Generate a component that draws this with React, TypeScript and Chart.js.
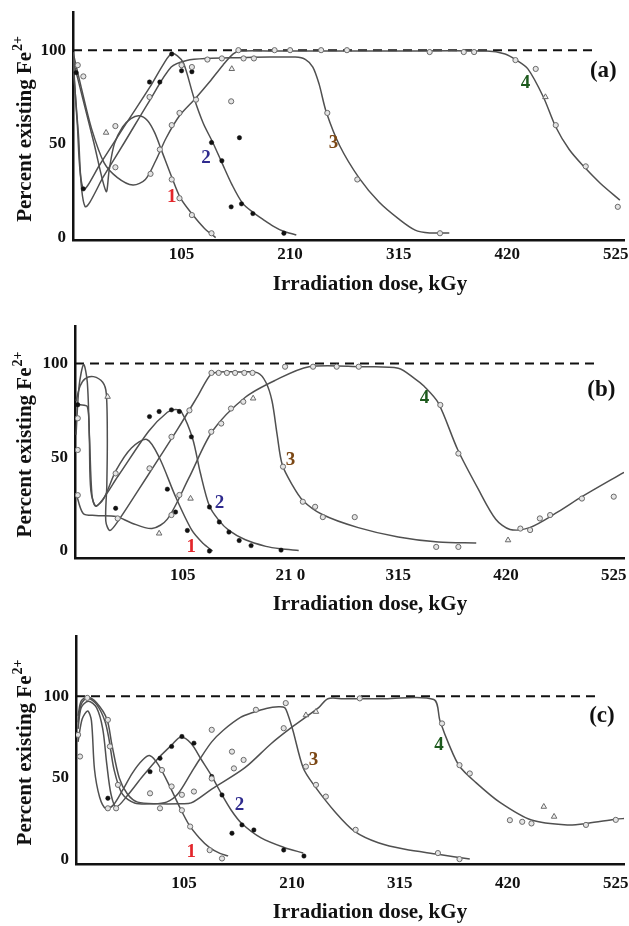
import React, { useEffect, useRef } from "react";
import { Chart, registerables } from "chart.js";
Chart.register(...registerables);

const SERIF = "'Liberation Serif', 'Times New Roman', serif";

// ---------- shared text / ticks ----------
const xTicks = [105, 210, 315, 420, 525];
const xTickLabelsA = ["105", "210", "315", "420", "525"];
const xTickLabelsB = ["105", "21 0", "315", "420", "525"];
const xTickLabelsC = ["105", "210", "315", "420", "525"];
const yTicks = [0, 50, 100];
const yTickLabels = ["0", "50", "100"];
const xTitle = "Irradiation dose, kGy";
const yTitleMain = "Percent existing Fe";
const yTitleSup = "2+";
const refLevel = 100;
const curveNames = ["1", "2", "3", "4"];
const labelColors = ["#e3262b", "#2f2b8e", "#7b4714", "#1d5a1d", "#111111"];

// ---------- panel (a) ----------
const a1X = [0, 10, 20, 32, 35, 40, 48, 56, 64, 72, 79, 86, 95, 104, 116, 127, 138];
const a1Y = [95, 73, 51, 24.6, 36, 50, 59, 63.5, 65, 62.5, 56, 46, 33, 21, 12, 5, 0];
const a2X = [0, 4, 10, 26, 51, 74, 88, 95, 101, 107, 117, 126, 135, 144, 154, 164, 174, 184, 194, 203, 216];
const a2Y = [97, 62, 26, 39, 60.5, 80, 93, 98, 97, 93, 74.6, 61, 51, 40, 28, 18.4, 13.5, 9.6, 6, 3.5, 1.4];
const a3X = [0, 5, 11.6, 30, 50, 74, 95, 110, 130, 160, 190, 215, 225, 232, 238, 245, 258, 277, 296, 315, 331, 345, 364];
const a3Y = [93, 57, 16.7, 33, 51, 73, 91, 94.5, 95.6, 96, 96.3, 96.3, 95, 91, 82, 67, 49, 31.6, 19, 10, 4, 2.5, 2.5];
const a4X = [0, 8, 18, 30, 43, 58, 70, 80, 90, 103, 118, 132, 145, 155, 162, 200, 300, 400, 418, 428, 440, 455, 467, 480, 494, 510, 529];
const a4Y = [99, 80, 58, 40, 32, 28, 31, 41, 53, 65, 74, 83, 92, 98, 99.5, 99.5, 99.5, 99.5, 98, 95, 90, 75, 59, 47, 38, 29, 20];
const openAX = [4.6, 10, 41, 41, 74, 75, 84, 95.5, 103, 105, 115, 119, 130, 144, 153, 165, 175, 95.5, 103, 115, 134, 246, 275, 355, 160, 195, 210, 240, 265, 345, 378, 388, 428, 447.6, 467, 496, 527];
const openAY = [92, 86, 59.5, 37.5, 75, 34, 47, 60, 66.5, 92, 91, 73.6, 95, 95.6, 72.7, 95.6, 95.6, 31, 21, 12, 2.3, 66.5, 31, 2.3, 100, 100, 100, 100, 100, 99, 99, 99, 94.7, 90, 60, 38, 16.4];
const triAX = [32, 153.6, 457];
const triAY = [56, 90, 75];
const dotAX = [74, 84, 105, 115, 95.5, 134, 144, 161, 153, 163, 174, 204, 10, 3];
const dotAY = [83, 83, 89, 88.5, 98, 50.7, 41, 53.3, 16.4, 18, 12.8, 2.3, 26, 88];
const labelTextA = [...curveNames, "(a)"];
const labelXA = [95.6, 128.6, 252, 437.8, 513];
const labelYA = [21.6, 42.4, 50.4, 82.4, 89];

// ---------- panel (b) ----------
const b1X = [1, 5, 12, 14, 16.5, 20, 28, 40, 55, 70, 82, 98, 114, 125, 134];
const b1Y = [78, 78, 77, 62, 30, 24, 28, 43, 55, 59.5, 50, 29, 11, 4, 0];
const b2X = [1, 4, 8.4, 12, 14, 15.5, 21, 42, 72, 90, 98, 104, 114.6, 122, 131, 140, 150, 166, 186, 200, 218];
const b2Y = [62, 88, 99.5, 90, 60, 32, 24, 40, 64, 74, 75.5, 74, 60, 42, 24, 16.5, 11, 6, 2.5, 1.2, 0.3];
const b3X = [1, 5, 10, 18, 27, 30.5, 31.5, 31, 30, 34, 42, 60, 80, 100, 120, 132, 140, 160, 178, 186, 192, 197, 202, 212, 222, 241, 276, 315, 354, 391];
const b3Y = [80, 88, 92, 93, 90, 84, 60, 35, 16, 11, 16, 31, 48, 65, 83, 94, 95.5, 95.5, 95, 90, 80, 62, 46, 35, 27, 19.5, 12.5, 7.5, 4.8, 4.3];
const b4X = [1, 8, 20, 40, 55, 75, 90, 111, 134, 166, 195, 228, 280, 315, 331, 340, 354, 373, 393, 410, 424, 443, 471, 494, 535];
const b4Y = [31, 20, 19, 18.5, 15, 12, 17, 39, 64, 82, 91, 98.3, 98.3, 97.5, 92, 88, 79, 54, 33, 17, 11.5, 12.5, 21, 29, 42];
const openBX = [2.7, 2.7, 2.7, 39.6, 41.6, 72.6, 94, 94, 101.7, 111.5, 132.8, 142.5, 152, 164, 133, 140, 148, 156, 165, 173, 202.7, 222, 234, 241.5, 272.6, 352, 373.6, 204.7, 232, 255, 276.5, 356, 373.6, 434, 443.5, 453, 463, 494, 525];
const openBY = [70.8, 53.9, 29.8, 41.4, 17.4, 44.1, 60.9, 19.2, 29.9, 75, 63.6, 68, 76, 79.6, 95, 95, 95, 95, 95, 95, 45, 26.3, 23.6, 18.1, 18.1, 2.2, 2.2, 98.3, 98.3, 98.3, 98.3, 77.9, 52, 12, 11.2, 17.4, 19.2, 28, 29];
const triBX = [31.8, 82, 112.6, 173.6, 422];
const triBY = [82.3, 9.4, 28, 81.4, 5.8];
const dotBX = [72.6, 82, 94, 101.7, 113.4, 131, 140.6, 150, 160, 171.6, 200.8, 90, 98, 109.5, 131, 39.6, 2.7];
const dotBY = [71.7, 74.4, 75.3, 74.4, 60.9, 23.5, 15.5, 10.1, 5.6, 2.9, 0.5, 33, 20.8, 11, 0, 22.8, 78];
const labelTextB = [...curveNames, "(b)"];
const labelXB = [113.4, 140.7, 210, 340.6, 513];
const labelYB = [2.3, 25.4, 48.5, 81.4, 85.9];

// ---------- panel (c) ----------
const c1X = [2, 6, 11.4, 15, 18, 23, 29, 36, 45, 55, 65, 72, 80, 91, 100, 110, 120, 130, 140, 148];
const c1Y = [72, 86, 91, 85, 55, 38, 31, 33, 42, 53, 61, 63.5, 58, 45, 33, 21, 13, 7, 3.5, 2];
const c2X = [2, 5, 12, 20, 26, 30, 34, 39, 50, 65, 80, 93, 102, 112, 122, 132, 141.5, 151, 161, 180, 203, 221];
const c2Y = [80, 93, 97, 93, 80, 58, 40, 32, 39, 51, 62, 70, 75, 71, 61, 51, 40, 30, 22, 13, 7, 3.8];
const c3X = [2, 5, 11, 20, 28, 32, 37, 45, 57, 75, 88, 99, 112, 120, 132, 143, 160, 172, 185, 197, 203, 206, 211, 221, 232, 252, 271, 294, 320, 352, 383];
const c3Y = [84, 95, 99, 95, 85, 74, 55, 40, 34.5, 34, 35, 40, 53, 61, 72, 79, 87, 90, 92.5, 93.5, 93, 89, 79, 56, 45, 29, 17, 10, 6, 3, 0];
const c4X = [2, 5, 11, 20, 30, 35, 42, 50, 60, 80, 100, 112, 132, 164, 190, 210, 236, 245, 260, 300, 348, 354, 363, 373, 389, 412, 443, 478, 498, 525, 535];
const c4Y = [88, 97, 99.5, 96, 86, 70, 50, 40, 35, 34, 34, 34.5, 43, 56, 71, 81, 93, 98.5, 98.5, 98.5, 98, 85, 70, 57, 47, 35, 24, 21, 22, 24.5, 25];
const openCX = [2, 3.9, 31, 33, 40.8, 31, 39, 72, 81.7, 93, 103, 114.7, 83.6, 103, 111, 130, 142, 132, 151.7, 175, 204, 202, 223.6, 233.4, 243, 272, 352, 373, 132, 153.6, 163, 276, 356, 373, 383, 422, 434, 443, 496, 525, 11];
const openCY = [76.3, 63, 85.5, 69.2, 45.6, 31.2, 31.2, 40.4, 31.2, 44.6, 39.5, 41.5, 54.7, 30, 20, 5.5, 0.4, 79.4, 66, 91.7, 95.8, 80.4, 56.8, 45.6, 38.4, 18, 3.7, 0, 49.5, 55.7, 60.9, 98.7, 83.3, 57.7, 52.6, 23.9, 22.9, 21.9, 21, 24.1, 99];
const triCX = [223.6, 233.4, 455, 465];
const triCY = [88.4, 90.5, 32.2, 26.1];
const dotCX = [31, 72, 81.7, 93, 103, 114.7, 132, 142, 151.7, 161.4, 173, 202, 221.7];
const dotCY = [37.4, 53.7, 61.9, 69.2, 75.3, 71.2, 50.7, 39.4, 15.9, 21, 17.9, 5.6, 1.9];
const labelTextC = [...curveNames, "(c)"];
const labelXC = [112, 159, 231, 353, 511.5];
const labelYC = [4.5, 33, 61, 70, 87.6];

type XY = { x: number; y: number };
const pts = (xs: number[], ys: number[]): XY[] => xs.map((x, i) => ({ x, y: ys[i] }));

type Layout = {
  height: number; top: number; right: number; yAxisW: number; xAxisH: number;
  xMax: number; yMin: number; yMax: number; tickPad: number; xTitleOff: number; dashEnd: number;
};
type Panel = {
  curves: XY[][]; open: XY[]; dot: XY[]; tri: XY[];
  labelText: string[]; labelX: number[]; labelY: number[];
  tickLabels: string[]; layout: Layout;
};

const panels: Panel[] = [
  {
    curves: [pts(a1X, a1Y), pts(a2X, a2Y), pts(a3X, a3Y), pts(a4X, a4Y)],
    open: pts(openAX, openAY), dot: pts(dotAX, dotAY), tri: pts(triAX, triAY),
    labelText: labelTextA, labelX: labelXA, labelY: labelYA, tickLabels: xTickLabelsA,
    layout: { height: 305, top: 12.7, right: 3, yAxisW: 73, xAxisH: 65, xMax: 533, yMin: -1.3, yMax: 120, tickPad: 4, xTitleOff: 45, dashEnd: 506 },
  },
  {
    curves: [pts(b1X, b1Y), pts(b2X, b2Y), pts(b3X, b3Y), pts(b4X, b4Y)],
    open: pts(openBX, openBY), dot: pts(dotBX, dotBY), tri: pts(triBX, triBY),
    labelText: labelTextB, labelX: labelXB, labelY: labelYB, tickLabels: xTickLabelsB,
    layout: { height: 310, top: 21, right: 1, yAxisW: 75, xAxisH: 57, xMax: 535, yMin: -3.7, yMax: 120, tickPad: 7, xTitleOff: 47, dashEnd: 506 },
  },
  {
    curves: [pts(c1X, c1Y), pts(c2X, c2Y), pts(c3X, c3Y), pts(c4X, c4Y)],
    open: pts(openCX, openCY), dot: pts(dotCX, dotCY), tri: pts(triCX, triCY),
    labelText: labelTextC, labelX: labelXC, labelY: labelYC, tickLabels: xTickLabelsC,
    layout: { height: 311, top: 21, right: 1, yAxisW: 76, xAxisH: 62, xMax: 533, yMin: -3, yMax: 137, tickPad: 9, xTitleOff: 49, dashEnd: 505 },
  },
];

function buildChart(canvas: HTMLCanvasElement, p: Panel) {
  const L = p.layout;
  const annot = {
    id: "annot",
    afterDatasetsDraw(chart: any) {
      const { ctx, chartArea, scales } = chart;
      ctx.save();
      ctx.textAlign = "center";
      ctx.textBaseline = "middle";
      p.labelText.forEach((t, i) => {
        const size = i < 4 ? 19 : 23;
        ctx.font = `bold ${size}px ${SERIF}`;
        ctx.fillStyle = labelColors[i];
        ctx.fillText(t, scales.x.getPixelForValue(p.labelX[i]), scales.y.getPixelForValue(p.labelY[i]));
      });
      ctx.fillStyle = "#111";
      ctx.font = `bold 21px ${SERIF}`;
      ctx.fillText(xTitle, 370, chartArea.bottom + L.xTitleOff);
      // rotated y title with superscript
      ctx.font = `bold 21px ${SERIF}`;
      const w1 = ctx.measureText(yTitleMain).width;
      ctx.font = `bold 14px ${SERIF}`;
      const w2 = ctx.measureText(yTitleSup).width;
      const cy = (chartArea.top + chartArea.bottom) / 2 + 3;
      ctx.translate(26, cy);
      ctx.rotate(-Math.PI / 2);
      ctx.textAlign = "left";
      ctx.font = `bold 21px ${SERIF}`;
      ctx.fillText(yTitleMain, -(w1 + w2) / 2, 0);
      ctx.font = `bold 14px ${SERIF}`;
      ctx.fillText(yTitleSup, -(w1 + w2) / 2 + w1 + 1, -8);
      ctx.restore();
    },
  };

  const datasets: any[] = [
    { data: p.open, showLine: false, pointStyle: "circle", pointRadius: 2.6, pointBorderWidth: 1, pointBorderColor: "#6a6a6a", pointBackgroundColor: "#e4e4e4", order: 0 },
    { data: p.tri, showLine: false, pointStyle: "triangle", pointRadius: 3.2, pointBorderWidth: 1, pointBorderColor: "#6a6a6a", pointBackgroundColor: "#f2f2f2", order: 0 },
    { data: p.dot, showLine: false, pointStyle: "circle", pointRadius: 2.2, pointBorderWidth: 0.5, pointBorderColor: "#111", pointBackgroundColor: "#111", order: 0 },
    ...p.curves.map((c) => ({ data: c, borderColor: "#505050", borderWidth: 1.5, pointRadius: 0, tension: 0.3, fill: false, order: 1 })),
    { data: [{ x: 0, y: refLevel }, { x: L.dashEnd, y: refLevel }], borderColor: "#111", borderWidth: 2, borderDash: [9, 6], pointRadius: 0, tension: 0, order: 2 },
  ];

  return new Chart(canvas, {
    type: "line",
    data: { datasets },
    options: {
      responsive: false,
      animation: false,
      events: [],
      layout: { padding: { top: L.top, right: L.right, left: 0, bottom: 0 } },
      plugins: { legend: { display: false }, tooltip: { enabled: false } },
      scales: {
        x: {
          type: "linear", min: 0, max: L.xMax,
          grid: { display: false, drawTicks: false },
          border: { display: true, color: "#111", width: 2.5 },
          ticks: {
            color: "#111", font: { family: SERIF, size: 17, weight: "bold" }, padding: L.tickPad,
            autoSkip: false, maxRotation: 0, callback: (_v: any, i: number) => p.tickLabels[i],
          },
          afterBuildTicks: (s: any) => { s.ticks = xTicks.map((v) => ({ value: v })); },
          afterFit: (s: any) => { s.height = L.xAxisH; s.paddingLeft = 0; s.paddingRight = 0; },
        },
        y: {
          type: "linear", min: L.yMin, max: L.yMax,
          grid: { display: false, drawTicks: false },
          border: { display: true, color: "#111", width: 2.5 },
          ticks: {
            color: "#111", font: { family: SERIF, size: 17, weight: "bold" }, padding: 7,
            callback: (_v: any, i: number) => yTickLabels[i],
          },
          afterBuildTicks: (s: any) => { s.ticks = yTicks.map((v) => ({ value: v })); },
          afterFit: (s: any) => { s.width = L.yAxisW; s.paddingTop = 0; s.paddingBottom = 0; },
        },
      },
    } as any,
    plugins: [annot as any],
  });
}

function PanelChart({ panel }: { panel: Panel }) {
  const ref = useRef<HTMLCanvasElement>(null);
  useEffect(() => {
    const chart = buildChart(ref.current as HTMLCanvasElement, panel);
    return () => chart.destroy();
  }, [panel]);
  return (
    <canvas ref={ref} width={629} height={panel.layout.height}
      style={{ display: "block", width: 629, height: panel.layout.height }} />
  );
}

export default function App() {
  return (
    <div style={{ position: "absolute", left: 0, top: 0, width: 629, height: 926, background: "#fff" }}>
      {panels.map((p, i) => <PanelChart key={i} panel={p} />)}
    </div>
  );
}
